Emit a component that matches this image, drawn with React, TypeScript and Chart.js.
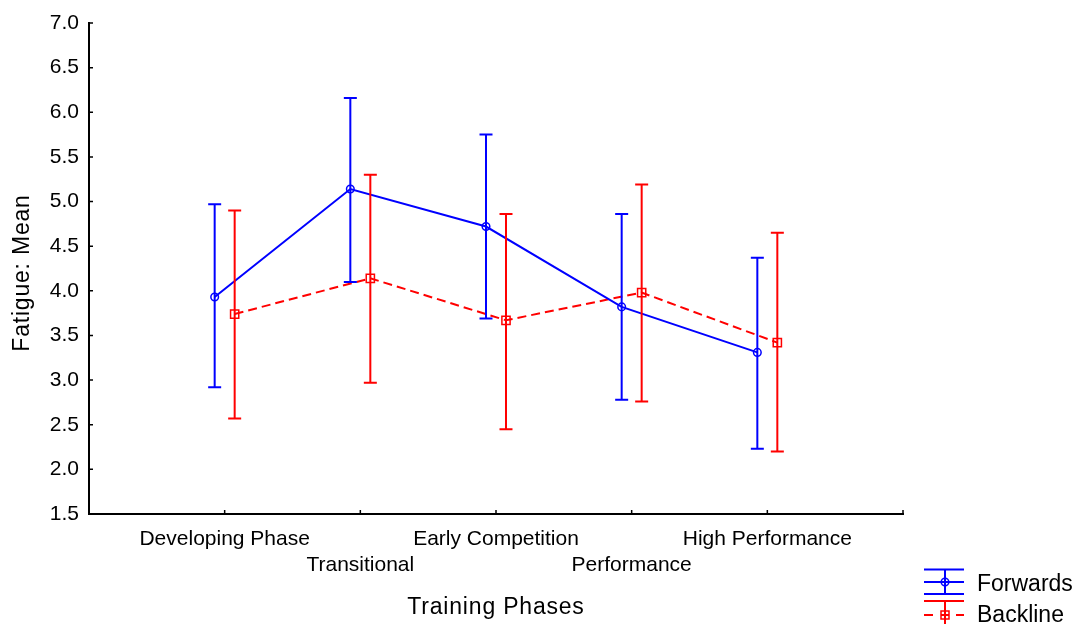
import { useEffect, useRef } from "react";
import { Chart, registerables } from "chart.js";

Chart.register(...registerables);

const categories = [
  "Developing Phase",
  "Transitional",
  "Early Competition",
  "Performance",
  "High Performance",
];
const forwardsMean = [3.93, 5.14, 4.72, 3.82, 3.31];
const forwardsUpper = [4.97, 6.16, 5.75, 4.86, 4.37];
const forwardsLower = [2.92, 4.1, 3.69, 2.78, 2.23];
const backlineMean = [3.74, 4.14, 3.67, 3.98, 3.42];
const backlineUpper = [4.9, 5.3, 4.86, 5.19, 4.65];
const backlineLower = [2.57, 2.97, 2.45, 2.76, 2.2];
const yTickValues = [1.5, 2.0, 2.5, 3.0, 3.5, 4.0, 4.5, 5.0, 5.5, 6.0, 6.5, 7.0];
const seriesNames = ["Forwards", "Backline"];
const xTitle = "Training Phases";
const yTitle = "Fatigue: Mean";

const BLUE = "#0000ff";
const RED = "#ff0000";
const FONT = '"Liberation Sans", Arial, sans-serif';
const OFFSET = 0.0737;

export default function App() {
  const ref = useRef<HTMLCanvasElement>(null);

  useEffect(() => {
    const canvas = ref.current;
    if (!canvas) return;

    const errorBars = {
      id: "errorBars",
      afterDatasetsDraw(chart: any) {
        const { ctx } = chart;
        const x = chart.scales.x;
        const y = chart.scales.y;
        const sets = [
          { upper: forwardsUpper, lower: forwardsLower, color: BLUE, off: -OFFSET },
          { upper: backlineUpper, lower: backlineLower, color: RED, off: OFFSET },
        ];
        ctx.save();
        ctx.lineWidth = 2;
        ctx.setLineDash([]);
        sets.forEach((s) => {
          ctx.strokeStyle = s.color;
          s.upper.forEach((u, i) => {
            const px = x.getPixelForValue(i + 1 + s.off);
            const top = y.getPixelForValue(u);
            const bot = y.getPixelForValue(s.lower[i]);
            ctx.beginPath();
            ctx.moveTo(px, top);
            ctx.lineTo(px, bot);
            ctx.moveTo(px - 6.5, top);
            ctx.lineTo(px + 6.5, top);
            ctx.moveTo(px - 6.5, bot);
            ctx.lineTo(px + 6.5, bot);
            ctx.stroke();
          });
        });
        ctx.restore();
      },
    };

    const decorations = {
      id: "decorations",
      afterDraw(chart: any) {
        const { ctx, chartArea } = chart;
        const x = chart.scales.x;
        const y = chart.scales.y;
        ctx.save();
        // inward tick marks
        ctx.strokeStyle = "#000";
        ctx.lineWidth = 1.5;
        ctx.beginPath();
        yTickValues.forEach((v) => {
          const py = y.getPixelForValue(v);
          ctx.moveTo(chartArea.left, py);
          ctx.lineTo(chartArea.left + 4, py);
        });
        const xt = categories.map((_, i) => i + 1).concat([x.max]);
        xt.forEach((v) => {
          const px = x.getPixelForValue(v);
          ctx.moveTo(px, chartArea.bottom);
          ctx.lineTo(px, chartArea.bottom - 4);
        });
        ctx.stroke();

        // axis titles
        ctx.fillStyle = "#000";
        ctx.font = `23px ${FONT}`;
        try {
          (ctx as any).letterSpacing = "0.8px";
        } catch (e) {}
        ctx.textAlign = "center";
        ctx.textBaseline = "alphabetic";
        ctx.fillText(xTitle, (chartArea.left + chartArea.right) / 2, 614);
        ctx.save();
        ctx.translate(28.5, 273);
        ctx.rotate(-Math.PI / 2);
        ctx.fillText(yTitle, 0, 0);
        ctx.restore();
        try {
          (ctx as any).letterSpacing = "0px";
        } catch (e) {}

        // legend
        const lx0 = 924;
        const lx1 = 964;
        const lc = 945;
        ctx.lineWidth = 2;
        // Forwards
        ctx.strokeStyle = BLUE;
        ctx.beginPath();
        ctx.moveTo(lx0, 569.5);
        ctx.lineTo(lx1, 569.5);
        ctx.moveTo(lx0, 582);
        ctx.lineTo(lx1, 582);
        ctx.moveTo(lx0, 594);
        ctx.lineTo(lx1, 594);
        ctx.moveTo(lc, 569.5);
        ctx.lineTo(lc, 594);
        ctx.stroke();
        ctx.lineWidth = 1.5;
        ctx.beginPath();
        ctx.arc(lc, 582, 3.8, 0, Math.PI * 2);
        ctx.stroke();
        // Backline
        ctx.lineWidth = 2;
        ctx.strokeStyle = RED;
        ctx.beginPath();
        ctx.moveTo(lx0, 601);
        ctx.lineTo(lx1, 601);
        ctx.moveTo(lc, 601);
        ctx.lineTo(lc, 630);
        ctx.moveTo(lx0, 615);
        ctx.lineTo(lx0 + 9, 615);
        ctx.moveTo(lx1 - 8, 615);
        ctx.lineTo(lx1, 615);
        ctx.moveTo(lc - 4, 615);
        ctx.lineTo(lc + 4, 615);
        ctx.stroke();
        ctx.lineWidth = 1.5;
        ctx.strokeRect(lc - 4, 611, 8, 8);

        ctx.fillStyle = "#000";
        ctx.font = `23px ${FONT}`;
        ctx.textAlign = "left";
        ctx.textBaseline = "alphabetic";
        ctx.fillText(seriesNames[0], 977, 591);
        ctx.fillText(seriesNames[1], 977, 622);
        ctx.restore();
      },
    };

    const chart = new Chart(canvas, {
      type: "line",
      data: {
        datasets: [
          {
            label: seriesNames[0],
            data: forwardsMean.map((v, i) => ({ x: i + 1 - OFFSET, y: v })),
            borderColor: BLUE,
            borderWidth: 2,
            pointStyle: "circle",
            pointRadius: 3.8,
            pointBorderWidth: 1.5,
            pointBorderColor: BLUE,
            pointBackgroundColor: "rgba(0,0,0,0)",
            tension: 0,
            fill: false,
          },
          {
            label: seriesNames[1],
            data: backlineMean.map((v, i) => ({ x: i + 1 + OFFSET, y: v })),
            borderColor: RED,
            borderWidth: 2,
            borderDash: [9, 5],
            pointStyle: "rect",
            pointRadius: 5.8,
            pointBorderWidth: 1.5,
            pointBorderColor: RED,
            pointBackgroundColor: "rgba(0,0,0,0)",
            tension: 0,
            fill: false,
          },
        ],
      },
      options: {
        responsive: false,
        animation: false,
        layout: { padding: { left: 0, top: 23, right: 176, bottom: 0 } },
        plugins: {
          legend: { display: false },
          tooltip: { enabled: false },
          title: { display: false },
        },
        scales: {
          x: {
            type: "linear",
            min: 0,
            max: 6,
            grid: { display: false, drawTicks: false },
            border: { display: true, color: "#000", width: 2 },
            afterBuildTicks: (s: any) => {
              s.ticks = categories.map((_, i) => ({ value: i + 1 }));
            },
            afterFit: (s: any) => {
              s.height = 110;
            },
            ticks: {
              color: "#000",
              font: { family: FONT, size: 21, lineHeight: 1.24 },
              padding: 12,
              maxRotation: 0,
              minRotation: 0,
              autoSkip: false,
              callback: (v: any) => {
                const i = Math.round(Number(v)) - 1;
                const name = categories[i] ?? "";
                return i % 2 === 0 ? name : ["", name];
              },
            },
          },
          y: {
            type: "linear",
            min: 1.5,
            max: 7,
            grid: { display: false, drawTicks: false },
            border: { display: true, color: "#000", width: 2 },
            afterBuildTicks: (s: any) => {
              s.ticks = yTickValues.map((v) => ({ value: v }));
            },
            afterFit: (s: any) => {
              s.width = 89;
            },
            ticks: {
              color: "#000",
              font: { family: FONT, size: 21 },
              padding: 10,
              callback: (v: any) => Number(v).toFixed(1),
            },
          },
        },
      },
      plugins: [errorBars, decorations],
    } as any);

    return () => chart.destroy();
  }, []);

  return (
    <div style={{ position: "fixed", left: 0, top: 0, width: 1079, height: 624, background: "#fff" }}>
      <canvas ref={ref} width={1079} height={624} style={{ display: "block", width: 1079, height: 624 }} />
    </div>
  );
}
